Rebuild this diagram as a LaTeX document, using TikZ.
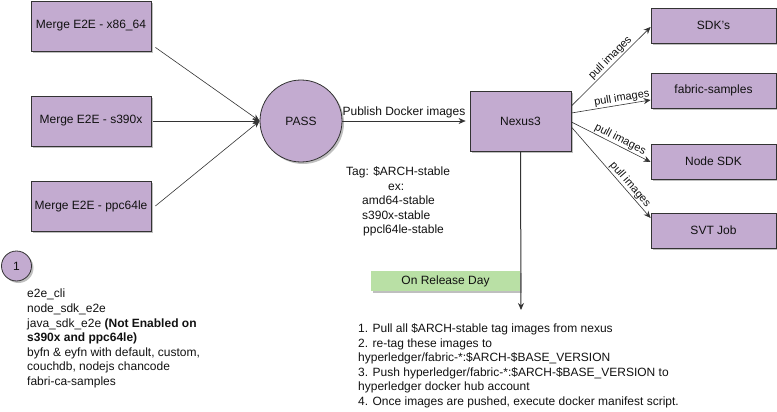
\documentclass[tikz,border=0pt]{standalone}
\usepackage{fontspec}
\setmainfont{Liberation Sans}
\usetikzlibrary{arrows.meta,shadows}
\definecolor{boxfill}{HTML}{C3ABD0}
\definecolor{greenfill}{HTML}{B9E0A5}
\definecolor{edgecol}{HTML}{333333}
\definecolor{txtcol}{HTML}{111111}
\begin{document}
\begin{tikzpicture}[x=1pt,y=-1pt,
  font=\fontsize{12}{14.6}\selectfont, text=txtcol,
  shad/.style={drop shadow={shadow xshift=2pt, shadow yshift=-2pt, opacity=0.25, fill=black}},
  box/.style={draw=edgecol, fill=boxfill, line width=0.8pt, inner sep=0pt, shad},
  rnd/.style={circle, draw=edgecol, fill=boxfill, line width=0.8pt, inner sep=0pt, shad},
  conn/.style={draw=edgecol, line width=0.6pt, -{Stealth[length=7pt,width=6pt]}},
  pull/.style={sloped, above, inner sep=1pt, font=\fontsize{11}{13}\selectfont},
  para/.style={align=left, inner sep=0pt, anchor=north west}
]
\useasboundingbox (0,0) rectangle (777,412);

% left boxes
\node[box, minimum width=120pt, minimum height=50pt] (m1) at (91,26) {Merge E2E - x86\_64};
\node[box, minimum width=120pt, minimum height=50pt] (m2) at (91,121) {Merge E2E - s390x};
\node[box, minimum width=120pt, minimum height=50pt] (m3) at (91,206) {Merge E2E - ppc64le};

% PASS
\node[rnd, minimum size=82pt] (pass) at (301,121) {PASS};

% Nexus3
\node[box, minimum width=101pt, minimum height=60pt] (nexus) at (520.5,121) {Nexus3};

% right boxes
\node[box, minimum width=125pt, minimum height=35pt] (sdk) at (713.5,25.5) {SDK's};
\node[box, minimum width=125pt, minimum height=35pt] (fab) at (713.5,90.5) {fabric-samples};
\node[box, minimum width=125pt, minimum height=35pt] (nsdk) at (713.5,161.5) {Node SDK};
\node[box, minimum width=125pt, minimum height=35pt] (svt) at (713.5,230.5) {SVT Job};

% release day
\node[fill=greenfill, minimum width=149pt, minimum height=20pt, inner sep=0pt, shad] (rel) at (445.5,281) {On Release Day};
\coordinate (relend) at (521,310);

% circle 1
\node[rnd, minimum size=30pt] (one) at (16.5,266) {1};

% connectors
\draw[conn] ([shift={(4pt,4pt)}]m1.south east) -- (pass.west);
\draw[conn] ([xshift=2pt]m2.east) -- (pass.west);
\draw[conn] ([xshift=4pt]m3.east) -- (pass.west);
\draw[conn] (pass.east) -- node[above, inner sep=2pt, yshift=1pt] (pub) {Publish Docker images} ([xshift=-4pt]nexus.west);

\draw[conn] ([yshift=15pt]nexus.east) -- node[pull, pos=0.55] (p1) {pull images} ([yshift=-1.5pt]sdk.west);
\draw[conn] ([yshift=8pt]nexus.east) -- node[pull, pos=0.65] (p2) {pull images} ([yshift=-9.5pt]fab.west);
\draw[conn] ([yshift=-1pt]nexus.east) -- node[pull, pos=0.58] (p3) {pull images} ([yshift=-0.5pt]nsdk.west);
\draw[conn] ([yshift=-6pt]nexus.east) -- node[pull, pos=0.68] (p4) {pull images} ([yshift=12.5pt]svt.west);

\draw[conn, line width=1pt] (nexus.south) -- (relend);

% texts
\node[para, font=\fontsize{12}{14.5}\selectfont] (tag) at (346,166.8) {Tag: \$ARCH-stable\\
\hspace*{42pt}ex:\\
\hspace*{16pt}amd64-stable\\
\hspace*{16pt}s390x-stable\\
\hspace*{17pt}ppcl64le-stable};

\node[para, font=\fontsize{12}{14.6}\selectfont] (list) at (27,289) {e2e\_cli\\
node\_sdk\_e2e\\
java\_sdk\_e2e \textbf{(Not Enabled on}\\
\textbf{s390x and ppc64le)}\\
byfn \& eyfn with default, custom,\\
couchdb, nodejs chancode\\
fabri-ca-samples};

\node[para, font=\fontsize{12}{14.5}\selectfont] (steps) at (358,323.8) {1. Pull all \$ARCH-stable tag images from nexus\\
2. re-tag these images to\\
hyperledger/fabric-*:\$ARCH-\$BASE\_VERSION\\
3. Push hyperledger/fabric-*:\$ARCH-\$BASE\_VERSION to\\
hyperledger docker hub account\\
4. Once images are pushed, execute docker manifest script.};
\end{tikzpicture}
\end{document}
